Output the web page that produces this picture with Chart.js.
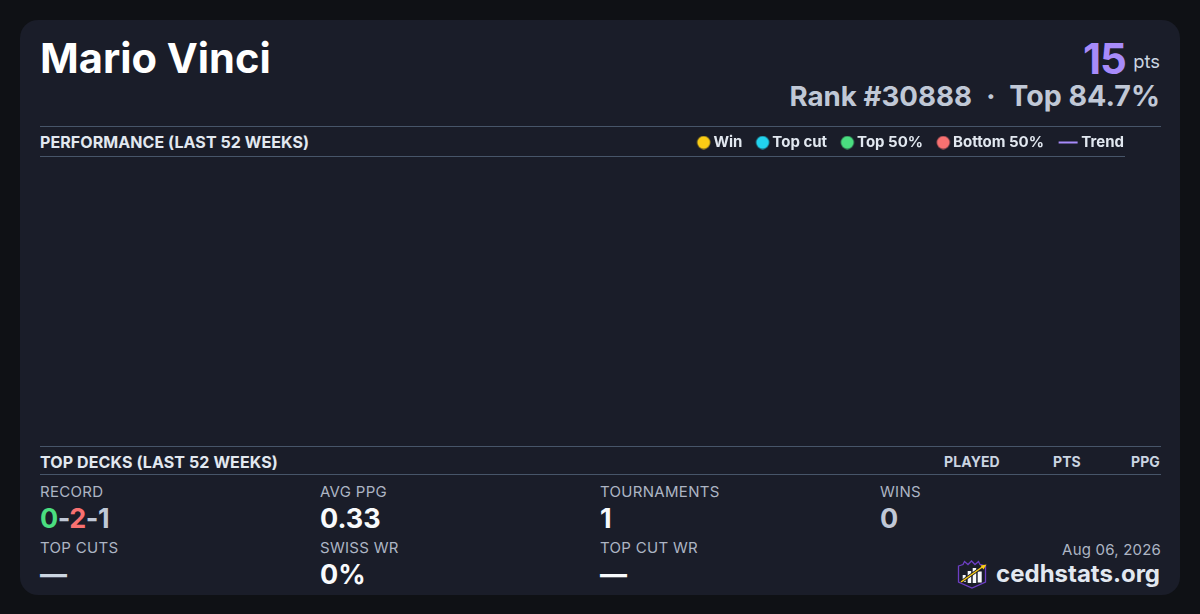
<!DOCTYPE html>
<html><head><meta charset="utf-8">
<script src="https://cdn.jsdelivr.net/npm/chart.js@4"></script>
<style>
html,body{margin:0;padding:0;width:1200px;height:614px;overflow:hidden;background:#0f1115;font-family:Inter,sans-serif}
#card{position:absolute;left:20px;top:20px;width:1160px;height:575px;background:#1a1d29;border-radius:18px}
.t{position:absolute;white-space:nowrap;line-height:1}
.r{text-align:right}
.hl{position:absolute;height:1px;background:#475569}
.lab{font-size:15px;color:#adb5c4;letter-spacing:.3px}
.val{font-size:27px;font-weight:700;color:#f8fafc}
.sec{font-size:16px;font-weight:700;color:#e2e8f0;letter-spacing:.1px}
.col{font-size:14px;font-weight:700;color:#cbd5e1;letter-spacing:.1px}
#wrap{position:absolute;left:40px;top:127px;width:1092px;height:319px}
</style></head><body>
<div id="card"></div>
<div class="t" style="left:40px;top:38px;font-size:41.6px;font-weight:700;color:#fff">Mario Vinci</div>
<div class="t" style="left:1083px;top:38px;font-size:42px;font-weight:700;color:#a78bfa;letter-spacing:-1px">15</div>
<div class="t r" style="right:40px;top:52px;font-size:18.4px;color:#cbd5e1">pts</div>
<div class="t r" style="right:40px;top:82px;font-size:28.6px;font-weight:700;color:#c0c8d6">Top 84.7%</div>
<div class="t" style="left:986px;top:82px;font-size:29px;font-weight:700;color:#c0c8d6">·</div>
<div class="t r" style="right:228px;top:82.5px;font-size:27.7px;font-weight:700;color:#c0c8d6">Rank #30888</div>
<div class="hl" style="left:40px;top:126px;width:1121px"></div>
<div class="hl" style="left:40px;top:156px;width:1085px"></div>
<div class="t sec" style="left:40px;top:134px;letter-spacing:.07px">PERFORMANCE (LAST 52 WEEKS)</div>
<div id="wrap"><canvas id="c"></canvas></div>
<div class="hl" style="left:40px;top:446px;width:1121px"></div>
<div class="hl" style="left:40px;top:474px;width:1121px"></div>
<div class="t sec" style="left:40px;top:454px">TOP DECKS (LAST 52 WEEKS)</div>
<div class="t col" style="left:944px;top:455px">PLAYED</div>
<div class="t col" style="left:1053px;top:455px">PTS</div>
<div class="t col" style="left:1131px;top:455px">PPG</div>

<div class="t lab" style="left:40px;top:484px">RECORD</div>
<div class="t val" style="left:40px;top:505px;letter-spacing:-.5px"><span style="color:#4ade80">0</span><span style="color:#c0c8d6">-</span><span style="color:#f87171">2</span><span style="color:#c0c8d6">-1</span></div>
<div class="t lab" style="left:320px;top:484px">AVG PPG</div>
<div class="t val" style="left:320px;top:505px">0.33</div>
<div class="t lab" style="left:600px;top:484px">TOURNAMENTS</div>
<div class="t val" style="left:600px;top:505px">1</div>
<div class="t lab" style="left:880px;top:484px">WINS</div>
<div class="t val" style="left:880px;top:505px;color:#c0c8d6">0</div>

<div class="t lab" style="left:40px;top:540px">TOP CUTS</div>
<div class="t val" style="left:40px;top:561px;color:#cbd5e1">—</div>
<div class="t lab" style="left:320px;top:540px">SWISS WR</div>
<div class="t val" style="left:320px;top:561px">0%</div>
<div class="t lab" style="left:600px;top:540px">TOP CUT WR</div>
<div class="t val" style="left:600px;top:561px">—</div>

<div class="t lab r" style="right:39px;top:542px;letter-spacing:.2px">Aug 06, 2026</div>
<div class="t" style="right:40px;top:562px;font-size:24px;font-weight:700;color:#e2e8f0">cedhstats.org</div>
<svg style="position:absolute;left:956px;top:558px" width="32" height="32" viewBox="0 0 32 32">
<path d="M2.5 8 L7 6.5 L8.5 3.5 L12 6.5 L15.5 3 L19 6.5 L22.5 3.5 L24 6.5 L29.5 8 V24 L16 30 L2.5 24 Z" fill="#1a1d29" stroke="#6d3fc4" stroke-width="1.3"/>
<rect x="6.7" y="17" width="3" height="7" fill="#f8fafc"/><rect x="11.7" y="13" width="3.5" height="12" fill="#f8fafc"/><rect x="16.7" y="10" width="3.5" height="15" fill="#f8fafc"/><rect x="21.7" y="13.5" width="4" height="11" fill="#f8fafc"/>
<path d="M5 24 L27 8.5" stroke="#1a1d29" stroke-width="2.8"/><path d="M5 24 L27 8.5" stroke="#facc15" stroke-width="1.5"/><path d="M30.5 6.5 L24.5 7.5 L27.5 11.5 Z" fill="#facc15"/>
</svg>
<script>
const weeks = [];
const winValues = [];
const topCutValues = [];
const top50Values = [];
const bottom50Values = [];
const trendValues = [];
const seriesNames = ['Win','Top cut','Top 50%','Bottom 50%','Trend'];
const seriesColors = ['#facc15','#22d3ee','#4ade80','#f87171','#a78bfa'];
const seriesData = [winValues,topCutValues,top50Values,bottom50Values,trendValues];
function legendMarker(color,isLine){
  const m=document.createElement('canvas');m.width=30;m.height=14;
  const g=m.getContext('2d');g.fillStyle=color;
  if(isLine){g.fillRect(7,6,19,2);}
  else{g.beginPath();g.arc(20,7,6.5,0,Math.PI*2);g.fill();}
  return m;
}
new Chart(document.getElementById('c'),{
  type:'scatter',
  data:{labels:weeks,datasets:seriesNames.map((n,i)=>({
    label:n,data:seriesData[i],backgroundColor:seriesColors[i],borderColor:seriesColors[i],
    type:i===4?'line':'scatter',borderWidth:i===4?2:0
  }))},
  options:{responsive:true,maintainAspectRatio:false,animation:false,
    layout:{padding:0},
    scales:{x:{display:false},y:{display:false}},
    plugins:{tooltip:{enabled:false},legend:{display:true,position:'top',align:'end',
      labels:{usePointStyle:true,boxWidth:14.5,boxHeight:14,padding:8,
        font:{family:'Inter',size:15,weight:'700'},color:'#e2e8f0',
        generateLabels(chart){
          return Chart.defaults.plugins.legend.labels.generateLabels(chart).map((l,i)=>({...l,
            text:i===3?l.text+'\u2002':l.text,
            pointStyle:legendMarker(seriesColors[i],i===4)}));
        }}}}
  }
});
</script>
</body></html>
